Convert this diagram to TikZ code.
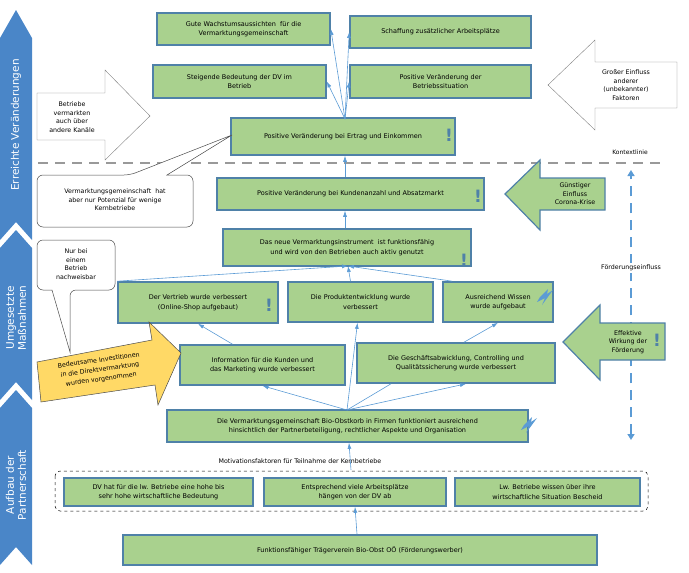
\documentclass[tikz,border=0pt]{standalone}
\usepackage{fontspec}
\setmainfont{DejaVu Sans}
\usetikzlibrary{arrows.meta,positioning}
\definecolor{boxgreen}{HTML}{A9D18E}
\definecolor{boxline}{HTML}{4F81A8}
\definecolor{bandblue}{HTML}{4A86C8}
\definecolor{lineblue}{HTML}{5B9BD5}
\definecolor{yellowfill}{HTML}{FFD966}
\tikzset{
  box/.style={rectangle,draw=boxline,fill=boxgreen,line width=1.6pt,align=center,
    font=\fontsize{6.5}{9.5}\selectfont,inner sep=1pt},
  link/.style={draw=lineblue,line width=0.6pt,-{Latex[length=6pt,width=4pt]}},
  excl/.style={text=boxline,font=\bfseries\fontsize{17}{17}\selectfont,inner sep=0pt},
  band/.style={fill=bandblue,draw=none},
  bandtext/.style={text=white,rotate=90,align=center,font=\fontsize{10.5}{12}\selectfont},
  small/.style={font=\fontsize{6.3}{8.5}\selectfont,align=center,inner sep=0pt}
}
\newcommand{\bolt}[2]{\fill[lineblue] (#1,#2) -- ++(8,-8) -- ++(-1,5) -- ++(6,-4) -- ++(-11,15) -- ++(3,-7) -- ++(-8,4) -- cycle;}
\begin{document}
\begin{tikzpicture}[x=1pt,y=-1pt]
\useasboundingbox (0,0) rectangle (689,573);
% band
\fill[band] (0,38) -- (16,10) -- (32,38) -- (32,240) -- (16,222) -- (0,240) -- cycle;
\fill[band] (0,248) -- (16,230) -- (32,248) -- (32,400) -- (16,382) -- (0,400) -- cycle;
\fill[band] (0,408) -- (16,390) -- (32,408) -- (32,565) -- (16,547) -- (0,565) -- cycle;
\node[bandtext] (bandA) at (16,125) {Erreichte Veränderungen};
\node[bandtext] (bandB) at (16,318) {Umgesetzte\\Maßnahmen};
\node[bandtext] (bandC) at (16,485) {Aufbau der\\Partnerschaft};
% context line
\draw[gray!80,line width=2.5pt,dash pattern=on 10pt off 7pt] (38,163) -- (660,163);
\node[small,font=\fontsize{6}{7}\selectfont] (kontext) at (630,152) {Kontextlinie};
% boxes
\node[box,minimum width=173pt,minimum height=32pt] (gute) at (243.5,29) {Gute Wachstumsaussichten \ für die\\Vermarktungsgemeinschaft};
\node[box,minimum width=181pt,minimum height=32pt] (schaffung) at (440.5,32) {Schaffung zusätzlicher Arbeitsplätze};
\node[box,minimum width=173pt,minimum height=33pt] (steigende) at (239.5,81.5) {Steigende Bedeutung der DV im\\Betrieb};
\node[box,minimum width=181pt,minimum height=33pt] (situation) at (440.5,81.5) {Positive Veränderung der\\Betriebssituation};
\node[box,minimum width=224pt,minimum height=37pt] (ertrag) at (343,136.5) {Positive Veränderung bei Ertrag und Einkommen};
\node[box,minimum width=267pt,minimum height=32pt] (kunden) at (350.5,194) {Positive Veränderung bei Kundenanzahl und Absatzmarkt};
\node[box,minimum width=248pt,minimum height=37pt] (instrument) at (347,247.5) {Das neue Vermarktungsinstrument \ ist funktionsfähig\\und wird von den Betrieben auch aktiv genutzt};
\node[box,minimum width=160pt,minimum height=41pt] (vertrieb) at (198,302.5) {Der Vertrieb wurde verbessert\\(Online-Shop aufgebaut)};
\node[box,minimum width=145pt,minimum height=40pt] (produkt) at (360.5,302) {Die Produktentwicklung wurde\\verbessert};
\node[box,minimum width=110pt,minimum height=40pt] (wissen) at (498,302) {Ausreichend Wissen\\wurde aufgebaut};
\node[box,minimum width=165pt,minimum height=40pt] (information) at (262.5,365) {Information für die Kunden und\\das Marketing wurde verbessert};
\node[box,minimum width=198pt,minimum height=40pt] (geschaeft) at (456,363) {Die Geschäftsabwicklung, Controlling und\\Qualitätssicherung wurde verbessert};
\node[box,minimum width=361pt,minimum height=32pt] (bioobst) at (347.5,426) {Die Vermarktungsgemeinschaft Bio-Obstkorb in Firmen funktioniert ausreichend\\hinsichtlich der Partnerbeteiligung, rechtlicher Aspekte und Organisation};
\node[small] (motivation) at (300,461) {Motivationsfaktoren für Teilnahme der Kernbetriebe};
\draw[dashed,rounded corners=5pt,line width=0.5pt] (55,471) rectangle (648,511);
\node[box,minimum width=189pt,minimum height=28pt] (dvhat) at (158.5,492) {DV hat für die lw. Betriebe eine hohe bis\\sehr hohe wirtschaftliche Bedeutung};
\node[box,minimum width=182pt,minimum height=28pt] (entsprechend) at (355,492) {Entsprechend viele Arbeitsplätze\\hängen von der DV ab};
\node[box,minimum width=185pt,minimum height=28pt] (lw) at (547.5,492) {Lw. Betriebe wissen über ihre\\wirtschaftliche Situation Bescheid};
\node[box,minimum width=474pt,minimum height=30pt] (traeger) at (360,550) {Funktionsfähiger Trägerverein Bio-Obst OÖ (Förderungswerber)};
% exclamation marks
\node[excl] (exA) at (449,135) {!};
\node[excl] (exB) at (478,196) {!};
\node[excl] (exC) at (464,260) {!};
\node[excl] (exD) at (269,305) {!};
% bolts
\bolt{540}{297}
\bolt{524}{425}
% links
\coordinate (hub) at (345,119);
\draw[link] (hub) -- (gute.east);
\draw[link] (hub) -- (steigende.east);
\draw[link] (hub) -- (schaffung.west);
\draw[link] (hub) -- (situation.west);
\draw[link] (kunden.north -| hub) -- (ertrag.south -| hub);
\draw[link] (instrument.north -| hub) -- (kunden.south -| hub);
\coordinate (instin) at (348,266);
\draw[link] (vertrieb.north west) -- (instin);
\draw[link] (produkt.north) ++(-10,0) -- (instin);
\draw[link] (wissen.north west) ++(10,0) -- (instin);
\draw[link] (information.north) ++(-30,0) -- (vertrieb.south);
\coordinate (bioin) at (347,410);
\draw[link] (bioin) -- (information.south);
\draw[link] (bioin) -- ([xshift=-3pt]produkt.south);
\draw[link] (bioin) -- ([xshift=10pt]geschaeft.south);
\draw[draw=lineblue,line width=0.6pt] (bioin) -- ([xshift=-65pt]geschaeft.south);
\draw[link] (geschaeft.north) ++(8,0) -- (wissen.south);
\draw[link] (351,470) -- (bioobst.south -| 349,0);
\draw[link] (traeger.north) ++(-3,0) -- (entsprechend.south);
% Foerderungseinfluss
\coordinate (fTop) at (631,170);
\coordinate (fBot) at (631,440);
\draw[lineblue,line width=2pt,dash pattern=on 10pt off 7pt,{Triangle[length=6pt,width=7pt]}-{Triangle[length=6pt,width=7pt]}] (fBot) -- (fTop);
\node[small,fill=white,inner sep=2pt] (foerd) at (631,268) {Förderungseinfluss};
% block arrows
\draw[gray,line width=0.4pt,fill=white] (37,93) -- (105,93) -- (105,70) -- (150,116) -- (105,160) -- (105,140) -- (37,140) -- cycle;
\node[small] (andere) at (72,117) {Betriebe\\vermarkten\\auch über\\andere Kanäle};
\draw[gray,line width=0.4pt,fill=white] (677,62) -- (595,62) -- (595,40) -- (548,85) -- (595,130) -- (595,108) -- (677,108) -- cycle;
\node[small] (gross) at (626,85) {Großer Einfluss\\anderer\\(unbekannter)\\Faktoren};
\draw[boxline,line width=1.2pt,fill=boxgreen] (605,178) -- (540,178) -- (540,160) -- (505,194) -- (540,230) -- (540,210) -- (605,210) -- cycle;
\node[small] (corona) at (575,194) {Günstiger\\Einfluss\\Corona-Krise};
\draw[boxline,line width=1.2pt,fill=boxgreen] (665,323) -- (600,323) -- (600,305) -- (563,342) -- (600,380) -- (600,360) -- (665,360) -- cycle;
\node[small] (effektiv) at (628,342) {Effektive\\Wirkung der\\Förderung};
\node[excl] (exE) at (657,340) {!};
% callouts
\draw[black!70,line width=0.5pt,fill=white,rounded corners=6pt] (37,175) -- (130,175) [sharp corners] -- (232,135) -- (167,175) [rounded corners=6pt] -- (193,175) -- (193,227) -- (37,227) -- cycle;
\node[small] (potenzial) at (115,200) {Vermarktungsgemeinschaft \ hat\\aber nur Potenzial für wenige\\Kernbetriebe};
\draw[black!70,line width=0.5pt,fill=white,rounded corners=6pt] (37,240) -- (115,240) -- (115,290) -- (70,290) [sharp corners] -- (70,352) -- (52,290) [rounded corners=6pt] -- (37,290) -- cycle;
\node[small] (einem) at (76,264) {Nur bei\\einem\\Betrieb\\nachweisbar};
\draw[black!70,line width=0.5pt,fill=yellowfill] (37,362) -- (152,340) -- (149,322) -- (181,353) -- (158,405) -- (155,385) -- (41,402) -- cycle;
\node[small,rotate=8,font=\fontsize{6.3}{9.5}\selectfont] (invest) at (100,370) {Bedeutsame Investitionen\\in die Direktvermarktung\\wurden vorgenommen};
\end{tikzpicture}
\end{document}
